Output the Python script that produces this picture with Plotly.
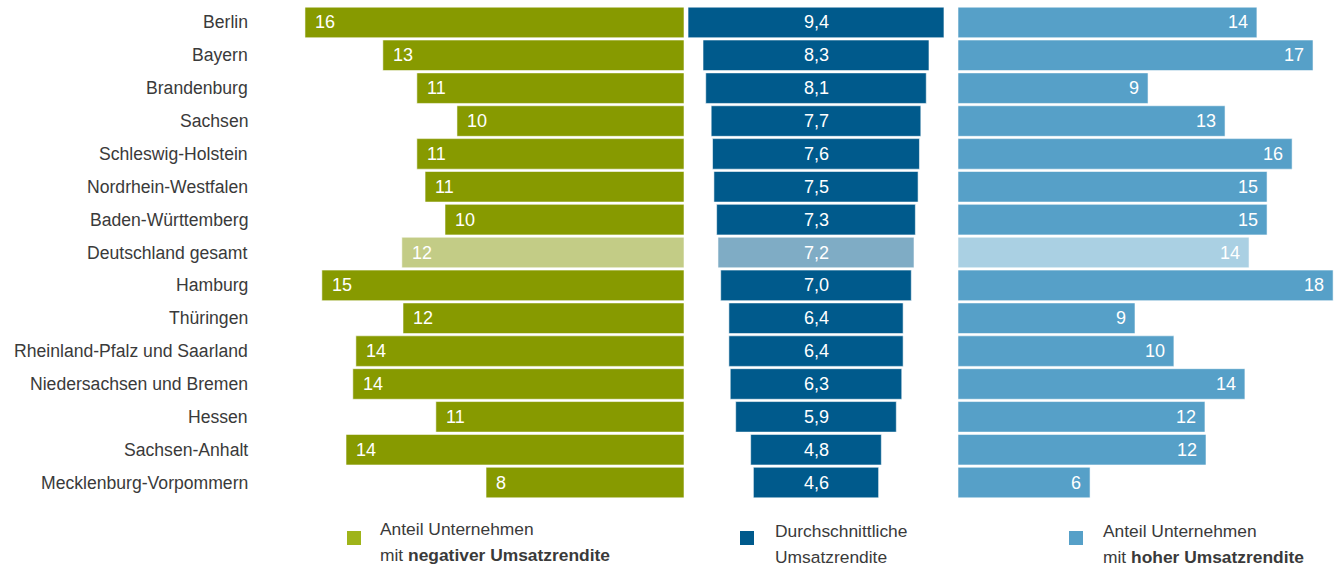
import plotly.graph_objects as go

W, H = 1336, 567

regions = ["Berlin", "Bayern", "Brandenburg", "Sachsen", "Schleswig-Holstein",
           "Nordrhein-Westfalen", "Baden-Württemberg", "Deutschland gesamt", "Hamburg",
           "Thüringen", "Rheinland-Pfalz und Saarland", "Niedersachsen und Bremen",
           "Hessen", "Sachsen-Anhalt", "Mecklenburg-Vorpommern"]

# Anteil Unternehmen mit negativer Umsatzrendite (%)
negative = [16.16, 12.84, 11.39, 9.68, 11.39, 11.04, 10.19, 12.03, 15.44, 11.98,
            13.99, 14.12, 10.58, 14.41, 8.44]
negative_labels = ["16", "13", "11", "10", "11", "11", "10", "12", "15", "12",
                   "14", "14", "11", "14", "8"]

# Durchschnittliche Umsatzrendite (%)
average = [9.4, 8.3, 8.1, 7.7, 7.6, 7.5, 7.3, 7.2, 7.0, 6.4, 6.4, 6.3, 5.9, 4.8, 4.6]
average_labels = ["9,4", "8,3", "8,1", "7,7", "7,6", "7,5", "7,3", "7,2", "7,0",
                  "6,4", "6,4", "6,3", "5,9", "4,8", "4,6"]

# Anteil Unternehmen mit hoher Umsatzrendite (%)
high = [14.44, 17.15, 9.18, 12.90, 16.14, 14.93, 14.93, 14.06, 18.12, 8.55,
        10.43, 13.86, 11.93, 11.98, 6.38]
high_labels = ["14", "17", "9", "13", "16", "15", "15", "14", "18", "9",
               "10", "14", "12", "12", "6"]

highlight = "Deutschland gesamt"

GREEN, GREEN_L = "#879a00", "#c3cc86"
DBLUE, DBLUE_L = "#005a8c", "#7facc5"
LBLUE, LBLUE_L = "#56a0c8", "#aad0e3"
FONT = "Arial, Liberation Sans, sans-serif"
TXT = "#3a3a3a"

def cols(base, light):
    return [light if r == highlight else base for r in regions]

fig = go.Figure()
common = dict(orientation="h", y=regions, hoverinfo="skip", showlegend=False)

fig.add_trace(go.Bar(x=negative, marker=dict(color=cols(GREEN, GREEN_L),
                     line=dict(width=1, color="rgba(255,255,255,0.55)")),
                     xaxis="x", yaxis="y", **common))
fig.add_trace(go.Bar(x=average, base=[-v / 2 for v in average],
                     marker=dict(color=cols(DBLUE, DBLUE_L),
                                 line=dict(width=1, color="rgba(255,255,255,0.55)")),
                     xaxis="x2", yaxis="y2", **common))
fig.add_trace(go.Bar(x=high, marker=dict(color=cols(LBLUE, LBLUE_L),
                     line=dict(width=1, color="rgba(255,255,255,0.55)")),
                     xaxis="x3", yaxis="y3", **common))

ml, mr, mt, mb = 0, 0, 6, 68
ph = H - mt - mb

def px(x):
    return x / W

def py(y):
    return (H - mb - y) / ph

yax = dict(categoryorder="array", categoryarray=regions, autorange="reversed",
           showticklabels=False, showgrid=False, zeroline=False, showline=False,
           domain=[0, 1])
xax = dict(showticklabels=False, showgrid=False, zeroline=False, showline=False,
           fixedrange=True)

fig.update_layout(
    width=W, height=H,
    margin=dict(l=ml, r=mr, t=mt, b=mb),
    paper_bgcolor="white", plot_bgcolor="white",
    bargap=0.07,
    font=dict(family=FONT, size=17, color=TXT),
    xaxis=dict(domain=[px(297), px(684)], range=[16.5, 0], anchor="y", **xax),
    xaxis2=dict(domain=[px(686), px(946)], range=[-4.775, 4.775], anchor="y2", **xax),
    xaxis3=dict(domain=[px(958), px(1336)], range=[0, 18.26], anchor="y3", **xax),
    yaxis=dict(anchor="x", **yax),
    yaxis2=dict(anchor="x2", matches="y", **yax),
    yaxis3=dict(anchor="x3", matches="y", **yax),
)

ann = []
for i, r in enumerate(regions):
    ann.append(dict(x=px(250), xref="paper", y=r, yref="y", text=r, showarrow=False,
                    xanchor="right", yanchor="middle",
                    font=dict(size=17.6, color=TXT, family=FONT)))
    ann.append(dict(x=negative[i], xref="x", y=r, yref="y", text=negative_labels[i],
                    showarrow=False, xanchor="left", yanchor="middle", xshift=8,
                    font=dict(size=18, color="white", family=FONT)))
    ann.append(dict(x=0, xref="x2", y=r, yref="y2", text=average_labels[i],
                    showarrow=False, xanchor="center", yanchor="middle",
                    font=dict(size=18, color="white", family=FONT)))
    ann.append(dict(x=high[i], xref="x3", y=r, yref="y3", text=high_labels[i],
                    showarrow=False, xanchor="right", yanchor="middle", xshift=-7,
                    font=dict(size=18, color="white", family=FONT)))

legend_items = [
    (GREEN, "#9fb41a", 347, 531, 380, ["Anteil Unternehmen", "mit <b>negativer Umsatzrendite</b>"], [529, 555]),
    (DBLUE, DBLUE, 740, 531, 775, ["Durchschnittliche", "Umsatzrendite"], [531, 557]),
    (LBLUE, LBLUE, 1069, 531, 1103, ["Anteil Unternehmen", "mit <b>hoher Umsatzrendite</b>"], [531, 557]),
]
shapes = []
for _, sq, sx, sy, tx, lines, ys in legend_items:
    shapes.append(dict(type="rect", xref="paper", yref="paper",
                       x0=px(sx), x1=px(sx + 14), y0=py(sy + 14), y1=py(sy),
                       fillcolor=sq, line=dict(width=0)))
    for t, ty in zip(lines, ys):
        ann.append(dict(x=px(tx - 2), xref="paper", y=py(ty), yref="paper", text=t,
                        showarrow=False, xanchor="left", yanchor="middle",
                        font=dict(size=17.4, color=TXT, family=FONT)))

fig.update_layout(annotations=ann, shapes=shapes)
fig.write_html("out.html")
